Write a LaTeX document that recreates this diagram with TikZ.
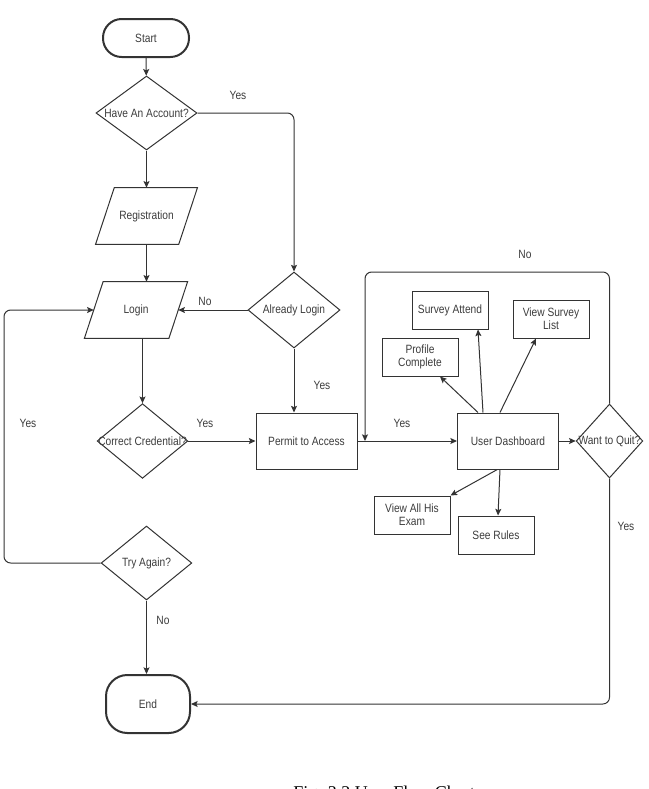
\documentclass[tikz,border=0pt]{standalone}
\usepackage{fontspec}
\setmainfont{Liberation Sans}[FakeStretch=0.85]
\newfontfamily\capfont{Liberation Serif}
\usetikzlibrary{shapes.geometric,arrows.meta}
\definecolor{linegray}{HTML}{333333}
\definecolor{textgray}{HTML}{3C3C3C}

\begin{document}
\begin{tikzpicture}[x=0.75pt,y=-0.75pt,
    every node/.style={text=textgray,font=\fontsize{9pt}{10pt}\selectfont},
    line/.style={draw=linegray,line width=0.75pt},
    arrow/.style={line,-{Stealth[length=5pt,width=4.5pt,inset=1pt]}},
    terminal/.style={line,line width=1.5pt,minimum width=64.5pt,minimum height=28.5pt,rounded corners=14pt},
    process/.style={line,minimum width=75.75pt,minimum height=42pt,align=center},
    smallbox/.style={line,minimum width=57pt,minimum height=28.5pt,align=center,inner sep=1pt},
    decision/.style={line,diamond,inner sep=0pt},
    io/.style={minimum width=62pt,minimum height=42pt},
    lbl/.style={inner sep=1pt}]
    \useasboundingbox (0,0) rectangle (649,789);
    % start / end
    \node[terminal] (start) at (146,38) {Start};
    \node[terminal,minimum width=63pt,minimum height=43.5pt,rounded corners=16pt] (end) at (148,704) {End};
    % decisions
    \node[decision,minimum width=75.75pt,minimum height=55.5pt] (account) at (146.5,113) {\makebox[0pt]{Have An Account?}};
    \node[decision,minimum width=69pt,minimum height=57pt] (already) at (294,310) {\makebox[0pt]{Already Login}};
    \node[decision,minimum width=68pt,minimum height=56pt] (correct) at (142.5,441) {\makebox[0pt]{Correct Credential?}};
    \node[decision,minimum width=68pt,minimum height=55.5pt] (again) at (146.5,563) {\makebox[0pt]{Try Again?}};
    \node[decision,minimum width=50pt,minimum height=55.5pt] (quit) at (609.5,441) {\makebox[0pt]{Want to Quit?}};
    % input boxes
    \node[io] (reg) at (146.5,216) {Registration};
    \draw[line] ([xshift=7pt]reg.north west) -- ([xshift=7pt]reg.north east)
      -- ([xshift=-7pt]reg.south east) -- ([xshift=-7pt]reg.south west) -- cycle;
    \node[io,minimum width=63pt] (login) at (136,310) {Login};
    \draw[line] ([xshift=7pt]login.north west) -- ([xshift=7pt]login.north east)
      -- ([xshift=-7pt]login.south east) -- ([xshift=-7pt]login.south west) -- cycle;
    % processes
    \node[process] (permit) at (306.5,441) {Permit to Access};
    \node[process] (dash) at (508,441) {User Dashboard};
    \node[smallbox] (survey) at (450,310) {Survey Attend};
    \node[smallbox] (list) at (551,319) {View Survey\\List};
    \node[smallbox] (profile) at (420,357) {Profile\\Complete};
    \node[smallbox] (exam) at (412,515) {View All His\\Exam};
    \node[smallbox] (rules) at (496,535) {See Rules};
    % main flow
    \draw[arrow] (start) -- (account);
    \draw[arrow] (account) -- (reg);
    \draw[arrow] (reg.south) -- (reg.south |- login.north);
    \draw[arrow,rounded corners=5pt] (account.east) -| (already.north);
    \draw[arrow] (already.west) -- (login.east);
    \draw[arrow] (already.south) -- (already.south |- permit.north);
    \draw[arrow] (correct.north |- login.south) -- (correct.north);
    \draw[arrow] (correct.east) -- (permit.west);
    \draw[arrow] (permit.east) -- (dash.west);
    \draw[arrow] (dash.east) -- (quit.west);
    \draw[arrow] (again.south) -- (again.south |- end.north);
    % loops
    \coordinate (noturn) at (365,272);
    \draw[arrow,rounded corners=5pt] (quit.north) |- (noturn) -- (noturn |- permit.east);
    \draw[arrow,rounded corners=5pt] (quit.south) |- (end.east);
    \coordinate (retry) at (4,310);
    \draw[arrow,rounded corners=5pt] (again.west) -| (retry) -- (login.west);
    % dashboard options
    \draw[arrow] ([xshift=-22.5pt]dash.north) -- ([xshift=15pt]profile.south);
    \draw[arrow] ([xshift=-18.75pt]dash.north) -- ([xshift=21pt]survey.south);
    \draw[arrow] ([xshift=-6pt]dash.north) -- ([xshift=-11.25pt]list.south);
    \draw[arrow] ([xshift=-8pt]dash.south) -- (exam.north east);
    \draw[arrow] ([xshift=-6pt]dash.south) -- ([xshift=1.5pt]rules.north);
    % labels
    \node[lbl] (yes1) at (238,95) {Yes};
    \node[lbl] (no1) at (205,301) {No};
    \node[lbl] (yes2) at (322,385) {Yes};
    \node[lbl] (yes3) at (205,423) {Yes};
    \node[lbl] (yes4) at (28,423) {Yes};
    \node[lbl] (yes5) at (402,423) {Yes};
    \node[lbl] (no2) at (525,254) {No};
    \node[lbl] (yes6) at (626,526) {Yes};
    \node[lbl] (no3) at (163,620) {No};
    % caption (cut off at the page edge)
    \node[anchor=base west,inner sep=0pt,text=black,font=\capfont\fontsize{13.5pt}{15pt}\selectfont] (caption) at (293,798) {Fig. 3.2 User Flow Chart};
\end{tikzpicture}
\end{document}
